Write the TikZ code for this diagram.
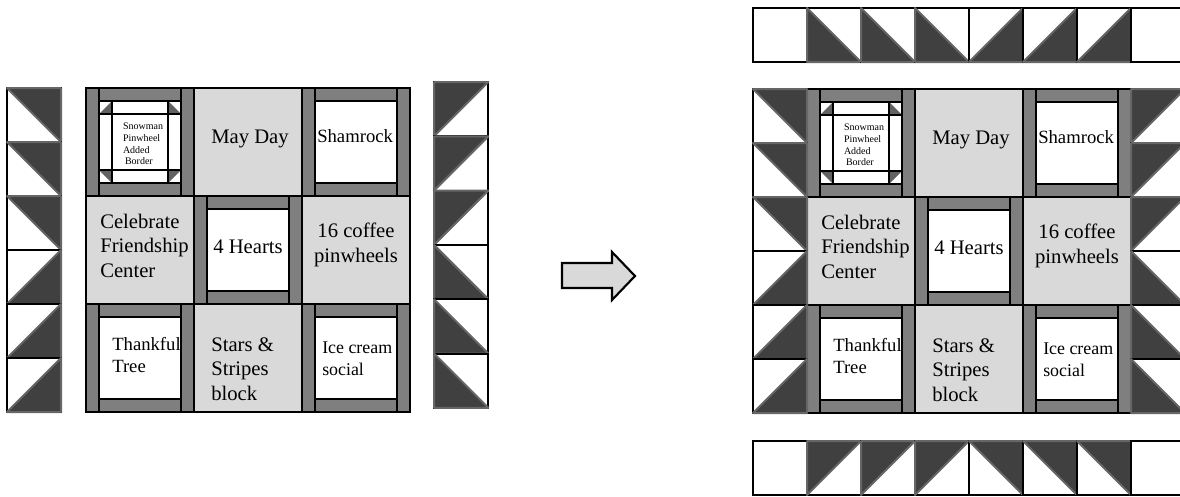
\documentclass[tikz,border=0pt]{standalone}
\usepackage{fontspec}
\setmainfont{Liberation Serif}
\usetikzlibrary{positioning}

\definecolor{sashgray}{HTML}{7F7F7F}
\definecolor{blockgray}{HTML}{D9D9D9}
\definecolor{tridark}{HTML}{404040}
\definecolor{triedge}{HTML}{666666}

\tikzset{
  quiltline/.style={draw=black, line width=1.6pt},
  plainblock/.style={quiltline, fill=blockgray},
  sashing/.style={quiltline, fill=sashgray},
  centre/.style={quiltline, fill=white},
  snowtri/.style={fill=black!62},
  hstsquare/.style={draw=black, line width=1.5pt, fill=white},
  hsttri/.style={fill=tridark, draw=triedge, line width=1.5pt, line join=round},
  arrowshape/.style={draw=black, line width=1.6pt, fill=blockgray, line join=miter},
  bigtext/.style={font=\fontsize{15.5}{18.2}\selectfont, inner sep=0pt},
  midtext/.style={font=\fontsize{14}{16.5}\selectfont, inner sep=0pt},
  smalltext/.style={font=\fontsize{13.4}{15.8}\selectfont, inner sep=0pt},
  tinytext/.style={font=\fontsize{7.5}{8.8}\selectfont, inner sep=0pt}
}

% one half-square triangle: x, y (top left), size, dark triangle
\newcommand{\hst}[4]{%
  \begin{scope}[shift={(#1,#2)}, scale=#3]
    \draw[hstsquare] (0,0) rectangle (1,1);
    \filldraw[hsttri] #4 -- cycle;
  \end{scope}}

% the nine blocks, #1 = prefix of the node names
\def\bs{108}
\def\fw{13}
\newcommand{\quilt}[1]{%
  % plain blocks
  \draw[plainblock] (\bs,0) rectangle ++(\bs,\bs);
  \draw[plainblock] (0,\bs) rectangle ++(\bs,\bs);
  \draw[plainblock] (2*\bs,\bs) rectangle ++(\bs,\bs);
  \draw[plainblock] (\bs,2*\bs) rectangle ++(\bs,\bs);
  % framed blocks
  \foreach \col/\rw in {0/0,2/0,1/1,0/2,2/2} {
    \draw[sashing] (\col*\bs,\rw*\bs) rectangle ++(\bs,\bs);
    \draw[centre] (\col*\bs+\fw,\rw*\bs+\fw) rectangle (\col*\bs+\bs-\fw,\rw*\bs+\bs-\fw);
    \draw[quiltline] (\col*\bs+\fw,\rw*\bs) -- ++(0,\bs);
    \draw[quiltline] (\col*\bs+\bs-\fw,\rw*\bs) -- ++(0,\bs);
  }
  % added border of the snowman
  \fill[snowtri] (26,13) -- (13,26) -- (26,26) -- cycle;
  \fill[snowtri] (82,13) -- (82,26) -- (95,26) -- cycle;
  \fill[snowtri] (13,82) -- (26,82) -- (26,95) -- cycle;
  \fill[snowtri] (82,82) -- (95,82) -- (82,95) -- cycle;
  \draw[quiltline] (26,13) -- (26,95) (82,13) -- (82,95)
                   (13,26) -- (95,26) (13,82) -- (95,82);
  % names (base = last line)
  \node[tinytext, align=left] (#1snowman) at (57,56) {Snowman\\Pinwheel\\Added\\\hspace*{1.5pt}Border};
  \node[bigtext, anchor=base] (#1mayday) at (1.5*\bs+2,55) {May Day};
  \node[midtext, anchor=base west] (#1shamrock) at (2*\bs+15,54) {Shamrock};
  \node[bigtext, anchor=base west, align=left] (#1celebrate) at (14,\bs+81) {Celebrate\\Friendship\\Center};
  \node[bigtext, anchor=base] (#1hearts) at (1.5*\bs,\bs+57) {4 Hearts};
  \node[bigtext, anchor=base, align=center] (#1coffee) at (2.5*\bs,\bs+66) {16 coffee\\pinwheels};
  \node[midtext, anchor=base west, align=left] (#1thankful) at (26,2*\bs+68) {Thankful\\Tree};
  \node[bigtext, anchor=base west, align=left] (#1stars) at (\bs+17,2*\bs+96) {Stars \&\\Stripes\\block};
  \node[smalltext, anchor=base west, align=left] (#1icecream) at (2*\bs+20,2*\bs+71) {Ice cream\\social};
}

\begin{document}
\begin{tikzpicture}[x=0.75pt, y=-0.75pt]
\useasboundingbox (0,0) rectangle (1180,496);

% before
\begin{scope}[shift={(86,88)}]
  \quilt{L}
\end{scope}
\foreach \i in {0,1,2} {\hst{7}{88+54*\i}{54}{(0,0) -- (1,0) -- (1,1)}}
\foreach \i in {3,4,5} {\hst{7}{88+54*\i}{54}{(1,0) -- (1,1) -- (0,1)}}
\foreach \i in {0,1,2} {\hst{434}{82+54.3*\i}{54.3}{(0,0) -- (1,0) -- (0,1)}}
\foreach \i in {3,4,5} {\hst{434}{82+54.3*\i}{54.3}{(0,0) -- (0,1) -- (1,1)}}

\draw[arrowshape] (562,263) -- (612,263) -- (612,252) -- (635,276)
  -- (612,300) -- (612,288) -- (562,288) -- cycle;

% after
\begin{scope}[shift={(807,89)}]
  \quilt{R}
\end{scope}
\foreach \i in {0,1,2} {\hst{753}{89+54*\i}{54}{(0,0) -- (1,0) -- (1,1)}}
\foreach \i in {3,4,5} {\hst{753}{89+54*\i}{54}{(1,0) -- (1,1) -- (0,1)}}
\foreach \i in {0,1,2} {\hst{1131}{89+54*\i}{54}{(0,0) -- (1,0) -- (0,1)}}
\foreach \i in {3,4,5} {\hst{1131}{89+54*\i}{54}{(0,0) -- (0,1) -- (1,1)}}
% top row
\draw[hstsquare] (753,8) rectangle ++(54,54);
\foreach \i in {1,2,3} {\hst{753+54*\i}{8}{54}{(0,0) -- (0,1) -- (1,1)}}
\foreach \i in {4,5,6} {\hst{753+54*\i}{8}{54}{(1,0) -- (1,1) -- (0,1)}}
\draw[hstsquare] (1131,8) rectangle ++(54,54);
% bottom row
\draw[hstsquare] (753,441) rectangle ++(54,54);
\foreach \i in {1,2,3} {\hst{753+54*\i}{441}{54}{(0,0) -- (1,0) -- (0,1)}}
\foreach \i in {4,5,6} {\hst{753+54*\i}{441}{54}{(0,0) -- (1,0) -- (1,1)}}
\draw[hstsquare] (1131,441) rectangle ++(54,54);
\end{tikzpicture}
\end{document}
